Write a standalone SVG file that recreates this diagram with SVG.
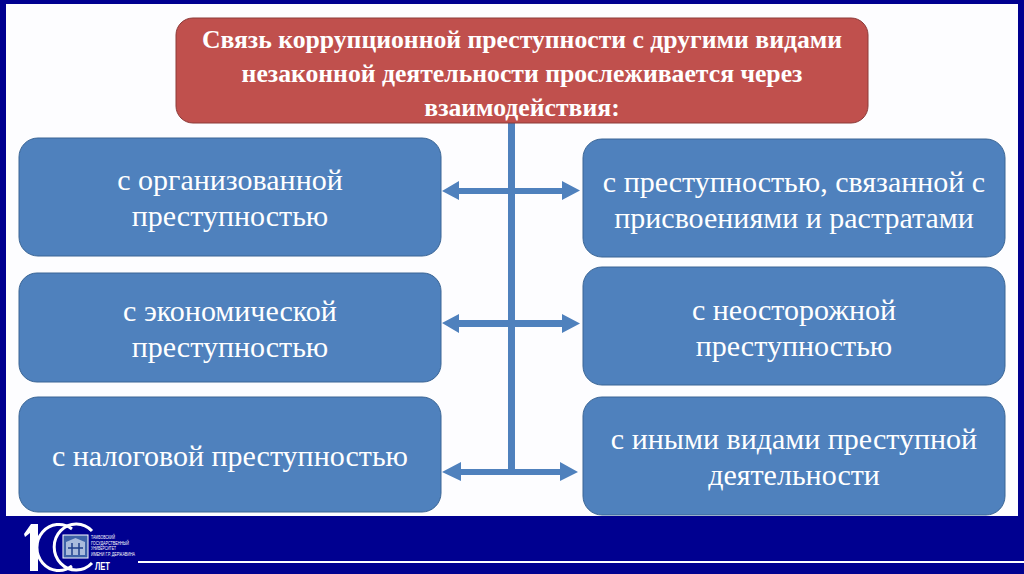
<svg xmlns="http://www.w3.org/2000/svg" width="1024" height="574" viewBox="0 0 1024 574">
<style>
.b{fill:#4f81bd;stroke:#3a6595;stroke-width:1}
.t{font-family:"Liberation Serif",serif;font-size:30px;fill:#fff;text-anchor:middle}
.h{font-family:"Liberation Serif",serif;font-weight:bold;fill:#fff;text-anchor:middle;font-size:25.7px}
.l{font-family:"Liberation Sans",sans-serif;font-size:4.5px;fill:#fff}
.a{fill:#4f81bd}
</style>
<rect width="1024" height="574" fill="#000090"/>
<rect x="6" y="4" width="1012" height="512" fill="#fdfdff"/>
<g id="connectors">
<rect class="a" x="508" y="122" width="7" height="353"/>
<path class="a" d="M442 191L459 181V188H562V181L580 190.500L562 200V194H459V200Z"/>
<path class="a" d="M442 323L459 314V320H562V314L580 323.500L562 333V327H459V333Z"/>
<path class="a" d="M442 472L461 462V469H560V462L578 472L560 481V475H461V481Z"/>
</g>
<g id="top"><rect x="176" y="18" width="692" height="105" rx="17" fill="#c0504d" stroke="#8c3a38"/>
<text class="h" x="522" y="48">Связь коррупционной преступности с другими видами</text>
<text class="h" x="522" y="82">незаконной деятельности прослеживается через</text>
<text class="h" x="522" y="116">взаимодействия:</text></g>
<g id="n1"><rect class="b" x="19" y="138" width="422" height="118" rx="19"/>
<text class="t" x="230" y="190">с организованной</text><text class="t" x="230" y="226">преступностью</text></g>
<g id="n2"><rect class="b" x="19" y="273" width="422" height="109" rx="18"/>
<text class="t" x="230" y="321">с экономической</text><text class="t" x="230" y="357">преступностью</text></g>
<g id="n3"><rect class="b" x="19" y="397" width="422" height="115" rx="19"/>
<text class="t" x="230" y="466">с налоговой преступностью</text></g>
<g id="n4"><rect class="b" x="583" y="139" width="422" height="118" rx="19"/>
<text class="t" x="794" y="192">с преступностью, связанной с</text><text class="t" x="794" y="228">присвоениями и растратами</text></g>
<g id="n5"><rect class="b" x="583" y="267" width="422" height="118" rx="19"/>
<text class="t" x="794" y="320">с неосторожной</text><text class="t" x="794" y="356">преступностью</text></g>
<g id="n6"><rect class="b" x="583" y="397" width="422" height="118" rx="19"/>
<text class="t" x="794" y="449">с иными видами преступной</text><text class="t" x="794" y="485">деятельности</text></g>
<g id="logo">
<path d="M24 534L31 524H38V571H30V533L25 537Z" fill="#fff"/>
<path d="M72 529A22 23 0 1 0 72 566" fill="none" stroke="#fff" stroke-width="3"/>
<path d="M92 531A22 23 0 1 0 92 563" fill="none" stroke="#fff" stroke-width="3"/>
<rect x="63" y="535" width="25" height="23" fill="#3d62a8" stroke="#fff" stroke-width="1"/>
<path d="M66 555V542L75.500 538L85 542V555Z" fill="#a9bbdc"/>
<path d="M68 548H83M72 543V555M79 543V555" stroke="#1f3f8a" stroke-width="1.500" fill="none"/>
<text class="l" x="91" y="539" textLength="24" lengthAdjust="spacingAndGlyphs">ТАМБОВСКИЙ</text>
<text class="l" x="91" y="545" textLength="38" lengthAdjust="spacingAndGlyphs">ГОСУДАРСТВЕННЫЙ</text>
<text class="l" x="91" y="550" textLength="25" lengthAdjust="spacingAndGlyphs">УНИВЕРСИТЕТ</text>
<text class="l" x="91" y="556" textLength="44" lengthAdjust="spacingAndGlyphs">ИМЕНИ Г.Р. ДЕРЖАВИНА</text>
<text x="95" y="570" font-family="Liberation Sans,sans-serif" font-size="11" font-weight="bold" fill="#fff" textLength="15" lengthAdjust="spacingAndGlyphs">ЛЕТ</text>
</g>
<rect x="138" y="561" width="886" height="2" fill="#fff"/>
</svg>
